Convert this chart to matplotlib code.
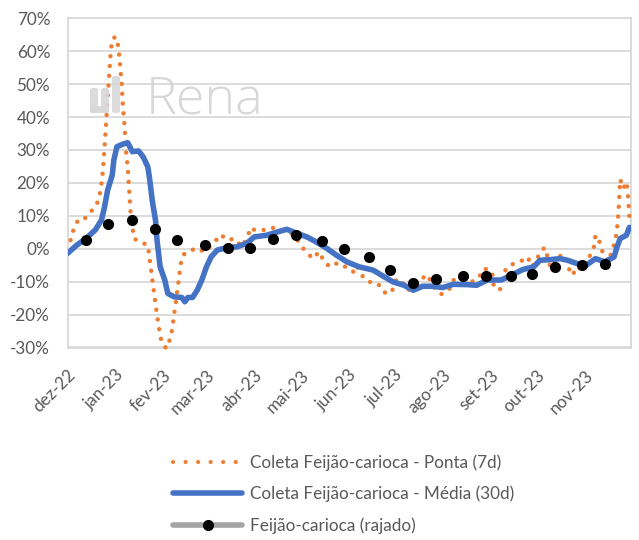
import matplotlib
matplotlib.use("Agg")
import matplotlib.pyplot as plt
from matplotlib.lines import Line2D
from matplotlib.patches import FancyBboxPatch
import pandas as pd

plt.rcParams['font.family'] = ['Lato', 'DejaVu Sans']

# ---------------- data ----------------
ponta_dates = [
    "2022-12-03", "2022-12-05", "2022-12-08", "2022-12-12", "2022-12-17", "2022-12-20",
    "2022-12-22", "2022-12-23", "2022-12-24", "2022-12-25", "2022-12-26", "2022-12-27",
    "2022-12-28", "2022-12-29", "2022-12-30", "2023-01-01", "2023-01-03", "2023-01-04",
    "2023-01-05", "2023-01-06", "2023-01-07", "2023-01-08", "2023-01-09", "2023-01-10",
    "2023-01-11", "2023-01-12", "2023-01-13", "2023-01-17", "2023-01-22", "2023-01-23",
    "2023-01-24", "2023-01-25", "2023-01-26", "2023-01-27", "2023-01-28", "2023-01-29",
    "2023-01-30", "2023-01-31", "2023-02-03", "2023-02-06", "2023-02-07", "2023-02-08",
    "2023-02-09", "2023-02-10", "2023-02-11", "2023-02-12", "2023-02-13", "2023-02-15",
    "2023-02-19", "2023-02-24", "2023-02-27", "2023-03-06", "2023-03-10", "2023-03-15",
    "2023-03-19", "2023-03-24", "2023-03-27", "2023-03-30", "2023-04-01", "2023-04-06",
    "2023-04-10", "2023-04-14", "2023-04-19", "2023-04-24", "2023-04-28", "2023-05-01",
    "2023-05-04", "2023-05-09", "2023-05-13", "2023-05-16", "2023-05-20", "2023-05-25",
    "2023-05-30", "2023-06-04", "2023-06-06", "2023-06-11", "2023-06-15", "2023-06-18",
    "2023-06-23", "2023-06-25", "2023-06-29", "2023-07-02", "2023-07-05", "2023-07-09",
    "2023-07-12", "2023-07-17", "2023-07-21", "2023-07-24", "2023-07-27", "2023-07-31",
    "2023-08-05", "2023-08-08", "2023-08-13", "2023-08-18", "2023-08-24", "2023-08-28",
    "2023-09-02", "2023-09-03", "2023-09-07", "2023-09-11", "2023-09-16", "2023-09-22",
    "2023-09-25", "2023-09-28", "2023-10-02", "2023-10-06", "2023-10-08", "2023-10-10",
    "2023-10-16", "2023-10-19", "2023-10-21", "2023-10-24", "2023-10-27", "2023-10-31",
    "2023-11-04", "2023-11-07", "2023-11-08", "2023-11-10", "2023-11-12", "2023-11-16",
    "2023-11-19", "2023-11-21", "2023-11-22", "2023-11-23", "2023-11-24", "2023-11-26",
    "2023-11-28", "2023-11-29", "2023-11-30",
]
ponta_values = [
    2.6, 5.9, 8.9, 9.1, 11.7, 13.5,
    16.8, 19.8, 24.0, 31.0, 38.0, 45.7,
    52.6, 59.8, 63.6, 64.4, 61.4, 56.0,
    50.7, 42.6, 37.0, 29.0, 24.9, 17.6,
    10.2, 6.9, 3.1, 2.1, 1.1, -2.2,
    -6.0, -9.5, -13.1, -16.4, -20.2, -23.2,
    -26.3, -28.3, -30.3, -26.8, -23.7, -20.2,
    -17.1, -13.1, -9.5, -6.0, -2.6, -1.4,
    -0.4, 0.1, -0.9, 1.8, 4.3, 2.6,
    3.1, 0.6, 3.1, 6.5, 5.7, 5.7,
    5.7, 6.5, 5.7, 5.1, 3.4, 1.1,
    -0.7, -3.0, -0.9, -3.8, -5.5, -4.3,
    -5.5, -7.0, -5.0, -9.0, -10.1, -10.1,
    -11.8, -13.6, -13.1, -9.3, -9.5, -12.6,
    -12.1, -10.5, -7.8, -9.5, -12.1, -13.8,
    -12.6, -9.5, -10.1, -10.5, -9.0, -6.0,
    -7.0, -11.1, -12.6, -6.0, -4.5, -3.5,
    -2.5, -5.5, -2.2, 0.4, -2.5, -6.0,
    -2.2, -1.9, -5.3, -8.1, -5.5, -6.5,
    -2.5, 0.6, 4.1, 3.1, -0.4, -4.0,
    -0.4, 2.8, 6.2, 12.0, 21.1, 18.3,
    20.3, 16.8, 9.2,
]

media_dates = [
    "2022-12-01", "2022-12-07", "2022-12-13", "2022-12-19", "2022-12-23", "2022-12-25",
    "2022-12-27", "2022-12-30", "2022-12-31", "2023-01-02", "2023-01-06", "2023-01-09",
    "2023-01-12", "2023-01-16", "2023-01-19", "2023-01-22", "2023-01-23", "2023-01-25",
    "2023-01-27", "2023-01-28", "2023-01-30", "2023-02-02", "2023-02-04", "2023-02-08",
    "2023-02-13", "2023-02-15", "2023-02-17", "2023-02-20", "2023-02-23", "2023-02-26",
    "2023-03-01", "2023-03-04", "2023-03-08", "2023-03-14", "2023-03-21", "2023-03-27",
    "2023-04-01", "2023-04-09", "2023-04-16", "2023-04-22", "2023-04-28", "2023-05-05",
    "2023-05-11", "2023-05-18", "2023-05-24", "2023-05-31", "2023-06-08", "2023-06-17",
    "2023-06-24", "2023-06-30", "2023-07-07", "2023-07-13", "2023-07-19", "2023-07-26",
    "2023-08-01", "2023-08-08", "2023-08-17", "2023-08-23", "2023-08-30", "2023-09-08",
    "2023-09-16", "2023-09-22", "2023-09-29", "2023-10-03", "2023-10-10", "2023-10-16",
    "2023-10-21", "2023-10-27", "2023-11-02", "2023-11-08", "2023-11-14", "2023-11-20",
    "2023-11-22", "2023-11-24", "2023-11-28", "2023-11-30",
]
media_values = [
    -1.4, 1.1, 3.1, 5.7, 8.7, 12.7,
    17.8, 22.4, 26.9, 31.0, 31.8, 32.2,
    29.5, 29.7, 27.9, 24.9, 21.9, 14.3,
    8.7, 2.6, -5.5, -9.5, -13.6, -14.6,
    -14.8, -16.1, -14.8, -14.8, -12.6, -9.5,
    -5.5, -2.5, -0.4, 0.3, 0.6, 1.6,
    3.6, 4.1, 5.1, 5.9, 4.8, 3.6,
    2.1, 0.1, -1.9, -4.0, -5.5, -6.5,
    -8.5, -10.1, -11.1, -12.6, -11.4, -11.4,
    -11.8, -10.8, -10.9, -11.1, -9.5, -9.5,
    -7.7, -6.3, -5.5, -3.5, -3.3, -3.0,
    -3.5, -4.5, -5.0, -3.0, -4.0, -2.5,
    0.6, 3.1, 4.1, 6.5,
]

rajado_dates = [
    "2022-12-13", "2022-12-27", "2023-01-12", "2023-01-27", "2023-02-10", "2023-02-28",
    "2023-03-15", "2023-03-29", "2023-04-13", "2023-04-28", "2023-05-15", "2023-05-29",
    "2023-06-14", "2023-06-28", "2023-07-13", "2023-07-28", "2023-08-14", "2023-08-29",
    "2023-09-14", "2023-09-28", "2023-10-13", "2023-10-30", "2023-11-14",
]
rajado_values = [
    2.8, 7.4, 8.7, 5.9, 2.8, 1.2,
    0.1, 0.3, 2.9, 4.3, 2.4, -0.1,
    -2.6, -6.5, -10.4, -9.3, -8.2, -8.4,
    -8.2, -7.7, -5.5, -4.8, -4.5,
]

month_labels = ["dez-22", "jan-23", "fev-23", "mar-23", "abr-23", "mai-23",
                "jun-23", "jul-23", "ago-23", "set-23", "out-23", "nov-23"]
y_ticks = [-30, -20, -10, 0, 10, 20, 30, 40, 50, 60, 70]

series_labels = ["Coleta Feijão-carioca - Ponta (7d)",
                 "Coleta Feijão-carioca - Média (30d)",
                 "Feijão-carioca (rajado)"]

# ---------------- style ----------------
ORANGE = "#ED7D31"
BLUE = "#4472C4"
GRAY = "#A5A5A5"
GRID = "#D9D9D9"
TXT = "#595959"
FS = 12.3

fig = plt.figure(figsize=(6.39, 5.40), dpi=100)
ax = fig.add_axes([67.5 / 639, 1 - 347.5 / 540, (631 - 67.5) / 639, (347.5 - 18.3) / 540])

# watermark (logo + name)
fig.text(146 / 639, 1 - 113 / 540, "Rena", fontsize=37.5, color="#D3D3D3",
         fontfamily=["Open Sans", "DejaVu Sans"], fontweight="light",
         ha="left", va="baseline", zorder=0, alpha=0.9)
for (x0, y0, w, h) in [(90, 88, 8, 25), (101, 88, 8, 25), (90, 106, 19, 7), (112, 76, 8, 37)]:
    fig.patches.append(FancyBboxPatch((x0 / 639, 1 - (y0 + h) / 540), w / 639, h / 540,
                                      boxstyle="round,pad=0,rounding_size=0.004",
                                      transform=fig.transFigure, facecolor="#D8D8D8",
                                      edgecolor="none", zorder=0, alpha=0.9))
ax.set_facecolor("none")

pd_ponta = pd.to_datetime(ponta_dates)
pd_media = pd.to_datetime(media_dates)
pd_rajado = pd.to_datetime(rajado_dates)

ax.plot(pd_ponta, [v / 100 for v in ponta_values], color=ORANGE, lw=3.2,
        linestyle=(0, (0.01, 2.2)), dash_capstyle="round", zorder=3, clip_on=False)
ax.plot(pd_media, [v / 100 for v in media_values], color=BLUE, lw=4.0,
        solid_capstyle="round", solid_joinstyle="round", zorder=4)
ax.plot(pd_rajado, [v / 100 for v in rajado_values], linestyle="none", marker="o",
        markersize=7, markerfacecolor="black", markeredgecolor="black", zorder=5)

# axes
start = pd.Timestamp("2022-12-01")
end = pd.Timestamp("2023-12-01")
ax.set_xlim(start, end)
ax.set_ylim(-0.30, 0.70)

month_starts = pd.date_range(start, periods=12, freq="MS")
ax.set_xticks(month_starts)
ax.set_xticklabels(month_labels, rotation=45, ha="right", va="top",
                   rotation_mode="anchor", color=TXT, fontsize=FS)
ax.set_xticks(pd.date_range(start, end, freq="MS"), minor=True)
ax.set_yticks([v / 100 for v in y_ticks])
ax.set_yticklabels([f"{v}%" for v in y_ticks], color=TXT, fontsize=FS)

ax.grid(True, which="minor", axis="x", color=GRID, lw=1.3, zorder=0)
ax.grid(True, which="major", axis="y", color=GRID, lw=1.3, zorder=0)
ax.set_axisbelow(True)
ax.tick_params(axis="both", which="both", length=0)
ax.tick_params(axis="y", pad=12.5)
ax.tick_params(axis="x", pad=14)
for s in ax.spines.values():
    s.set_color(GRID)
    s.set_linewidth(1.3)

# legend
handles = [
    Line2D([], [], color=ORANGE, lw=3.0, linestyle=(0, (0.01, 3.0)), dash_capstyle="round"),
    Line2D([], [], color=BLUE, lw=4.0, solid_capstyle="round"),
    Line2D([], [], color=GRAY, lw=4.0, solid_capstyle="round", marker="o", markersize=7,
           markerfacecolor="black", markeredgecolor="black"),
]
leg = fig.legend(handles, series_labels, loc="center left",
                 bbox_to_anchor=(158 / 639, 1 - 494 / 540), frameon=False,
                 fontsize=FS, handlelength=4.0, handletextpad=0.47,
                 labelspacing=0.87, numpoints=1)
for t in leg.get_texts():
    t.set_color(TXT)

fig.savefig("out.png", dpi=100)
